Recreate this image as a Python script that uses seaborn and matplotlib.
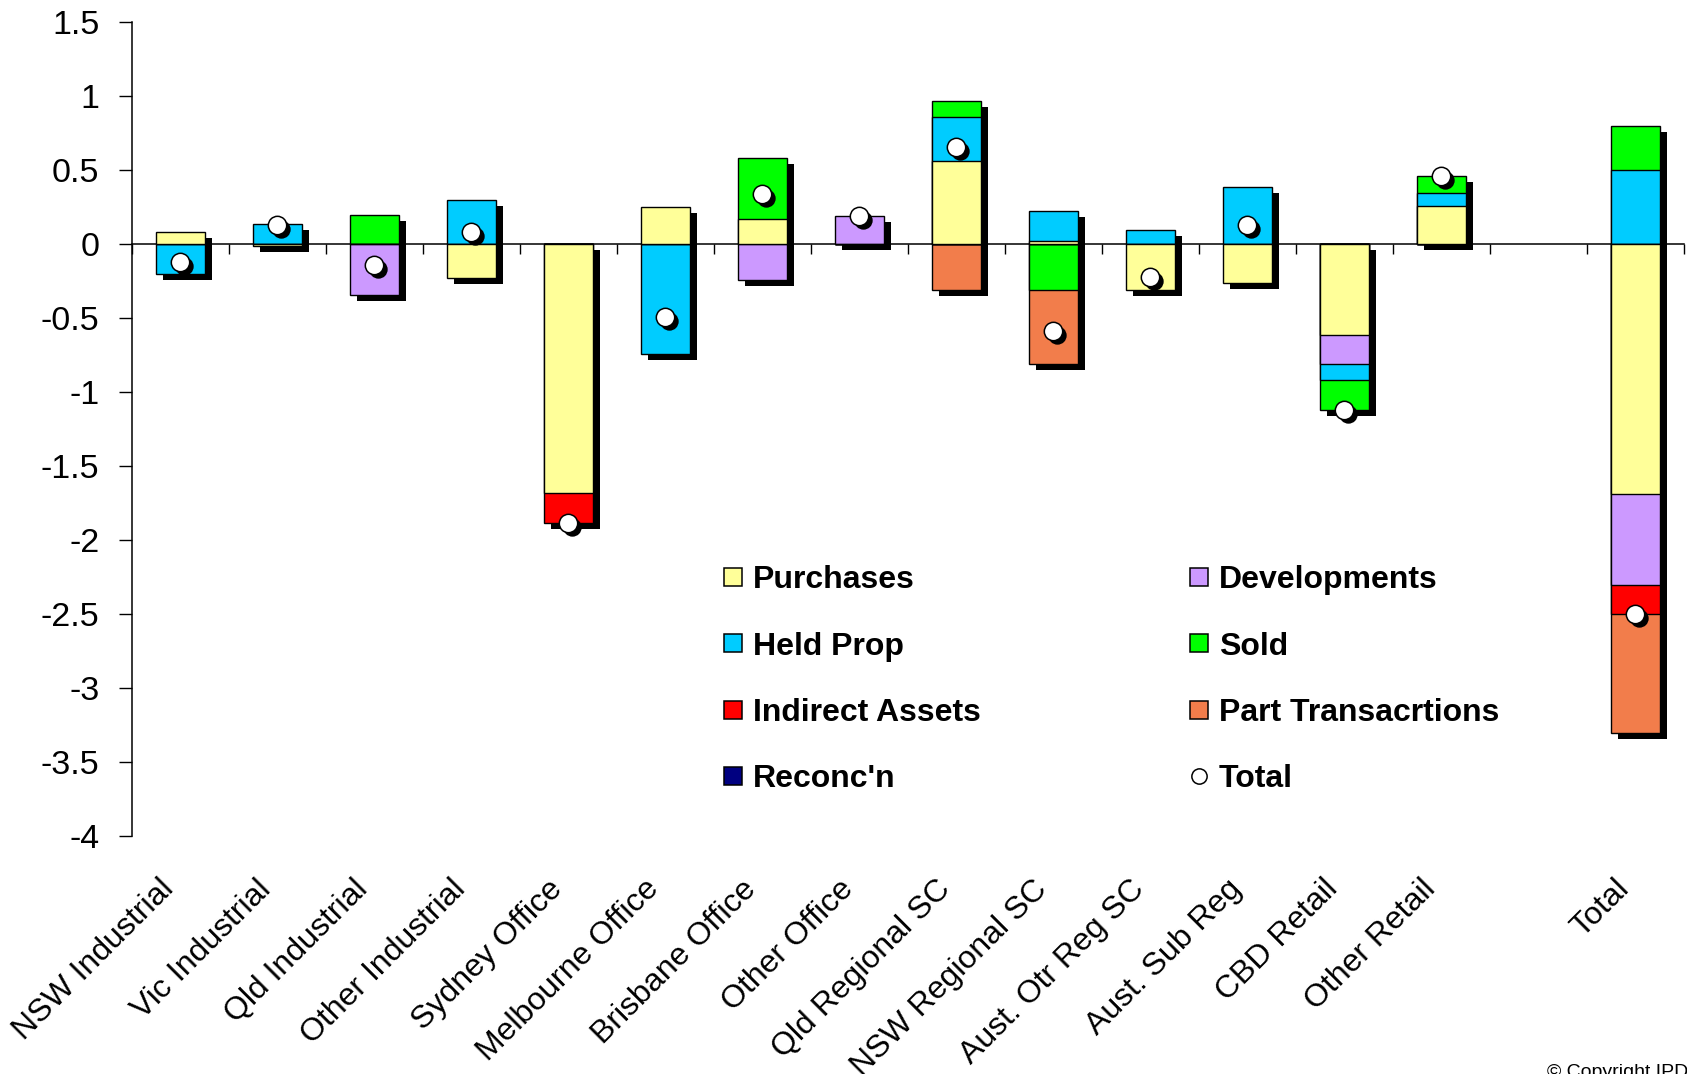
import numpy as np
import matplotlib
matplotlib.use("Agg")
import matplotlib.pyplot as plt
from matplotlib.transforms import ScaledTranslation
from matplotlib.lines import Line2D
import seaborn as sns

# ---- data -------------------------------------------------------------
categories = ["NSW Industrial", "Vic Industrial", "Qld Industrial", "Other Industrial",
              "Sydney Office", "Melbourne Office", "Brisbane Office", "Other Office",
              "Qld Regional SC", "NSW Regional SC", "Aust. Otr Reg SC", "Aust. Sub Reg",
              "CBD Retail", "Other Retail", "Total"]
positions = [0, 1, 2, 3, 4, 5, 6, 7, 8, 9, 10, 11, 12, 13, 15]

purchases = [0.08, -0.01, 0.00, -0.23, -1.68, 0.25, 0.17, 0.00, 0.56, 0.025, -0.31, -0.26, -0.61, 0.26, -1.69]
developments = [0.00, 0.00, -0.34, 0.00, 0.00, 0.00, -0.24, 0.19, 0.00, 0.00, 0.00, 0.00, -0.20, 0.00, -0.61]
held_prop = [-0.20, 0.14, 0.00, 0.30, 0.00, -0.74, 0.00, 0.00, 0.30, 0.20, 0.095, 0.39, -0.11, 0.09, 0.50]
sold = [0.00, 0.00, 0.20, 0.00, 0.00, 0.00, 0.41, 0.00, 0.11, -0.31, 0.00, 0.00, -0.20, 0.11, 0.30]
indirect_assets = [0.00, 0.00, 0.00, 0.00, -0.20, 0.00, 0.00, 0.00, 0.00, 0.00, 0.00, 0.00, 0.00, 0.00, -0.20]
part_transactions = [0.00, 0.00, 0.00, 0.00, 0.00, 0.00, 0.00, 0.00, -0.31, -0.50, 0.00, 0.00, 0.00, 0.00, -0.80]
reconciliation = [0.00] * 15
total = [-0.12, 0.13, -0.14, 0.08, -1.88, -0.49, 0.34, 0.19, 0.66, -0.585, -0.22, 0.13, -1.12, 0.46, -2.50]

series_names = ["Purchases", "Developments", "Held Prop", "Sold",
                "Indirect Assets", "Part Transacrtions", "Reconc'n"]
series_values = [purchases, developments, held_prop, sold,
                 indirect_assets, part_transactions, reconciliation]
series_colors = ["#FFFF99", "#CC99FF", "#00CCFF", "#00FF00",
                 "#FF0000", "#F27D4B", "#000080"]

y_ticks = [-4, -3.5, -3, -2.5, -2, -1.5, -1, -0.5, 0, 0.5, 1, 1.5]

# ---- style ------------------------------------------------------------
sns.set_style("white")
plt.rcParams["font.family"] = ["Liberation Sans", "DejaVu Sans"]
plt.rcParams["axes.unicode_minus"] = False
for key in ["text.color", "axes.edgecolor", "axes.labelcolor", "xtick.color", "ytick.color"]:
    plt.rcParams[key] = "black"

fig = plt.figure(figsize=(16.87, 10.74), dpi=100)
ax = fig.add_axes([0.0781, 0.2213, 0.9201, 0.7579])

vals = np.array(series_values, dtype=float)
pos_cum = np.cumsum(np.clip(vals, 0, None), axis=0)
neg_cum = np.cumsum(np.clip(vals, None, 0), axis=0)

bar_kw = dict(native_scale=True, orient="x", width=0.5, saturation=1,
              errorbar=None, ax=ax)

# drop shadows behind each stacked column
n_before = len(ax.patches)
sns.barplot(x=positions, y=pos_cum[-1], color="black", linewidth=0, zorder=2, **bar_kw)
sns.barplot(x=positions, y=neg_cum[-1], color="black", linewidth=0, zorder=2, **bar_kw)
shadow_shift = ScaledTranslation(0.07, -0.06, fig.dpi_scale_trans)
for p in ax.patches[n_before:]:
    p.set_transform(p.get_data_transform() + shadow_shift)

# stacked segments: draw cumulative columns from the outermost series inwards
for k in range(len(series_names) - 1, -1, -1):
    seg = vals[k]
    heights = np.where(seg > 0, pos_cum[k], np.where(seg < 0, neg_cum[k], 0.0))
    sns.barplot(x=positions, y=heights, color=series_colors[k], edgecolor="black",
                linewidth=1.0, zorder=3, **bar_kw)

# total markers with their shadow
sns.scatterplot(x=positions, y=total, color="black", s=175, linewidth=0,
                zorder=5, legend=False, ax=ax)
ax.collections[-1].set_offset_transform(
    ax.transData + ScaledTranslation(0.04, -0.04, fig.dpi_scale_trans))
sns.scatterplot(x=positions, y=total, color="white", edgecolor="black", s=175,
                linewidth=1.1, zorder=6, legend=False, ax=ax)

# ---- axes -------------------------------------------------------------
ax.set_xlim(-0.5, 15.5)
ax.set_ylim(-4, 1.5)
ax.spines[["top", "right"]].set_visible(False)
ax.spines["bottom"].set_position(("data", 0))
ax.spines["bottom"].set_linewidth(1.1)
ax.spines["left"].set_linewidth(1.1)
ax.spines["bottom"].set_zorder(2.5)

ax.set_xticks(np.arange(-0.5, 16.0, 1.0))
ax.tick_params(axis="x", direction="out", length=7.5, width=1.0, bottom=True,
               labelbottom=False, color="black")
ax.set_yticks(y_ticks, labels=[f"{v:g}" for v in y_ticks])
ax.tick_params(axis="y", direction="out", length=9.4, width=1.0, pad=14,
               labelsize=24.5, left=True, color="black", labelcolor="black")
ax.set_xlabel("")
ax.set_ylabel("")

sec = ax.secondary_xaxis("bottom")
sec.set_xticks(positions, labels=categories, rotation=45, ha="right",
               va="bottom", rotation_mode="anchor")
sec.spines["bottom"].set_visible(False)
sec.tick_params(length=0, pad=42.5, labelsize=23, labelcolor="black")

# ---- legend -----------------------------------------------------------
handle_map = {}
for name, col in zip(series_names, series_colors):
    handle_map[name] = Line2D([], [], linestyle="none", marker="s", markersize=12.5,
                              markerfacecolor=col, markeredgecolor="black",
                              markeredgewidth=1.1)
handle_map["Total"] = Line2D([], [], linestyle="none", marker="o", markersize=11,
                             markerfacecolor="white", markeredgecolor="black",
                             markeredgewidth=1.1)
legend_order = ["Purchases", "Held Prop", "Indirect Assets", "Reconc'n",
                "Developments", "Sold", "Part Transacrtions", "Total"]
leg = fig.legend([handle_map[n] for n in legend_order], legend_order,
                 loc="upper left", bbox_to_anchor=(0.4274, 0.4737), ncol=2, frameon=False,
                 prop={"weight": "bold", "size": 23}, handlelength=0.765,
                 handletextpad=0.24, columnspacing=6.44, labelspacing=1.135,
                 borderpad=0, borderaxespad=0)
for t in leg.get_texts():
    t.set_color("black")

fig.text(0.917, 0.0093, "\u00a9 Copyright IPD", fontsize=14, va="top", ha="left",
         color="black")

fig.savefig("out.png", dpi=100, facecolor="white")
